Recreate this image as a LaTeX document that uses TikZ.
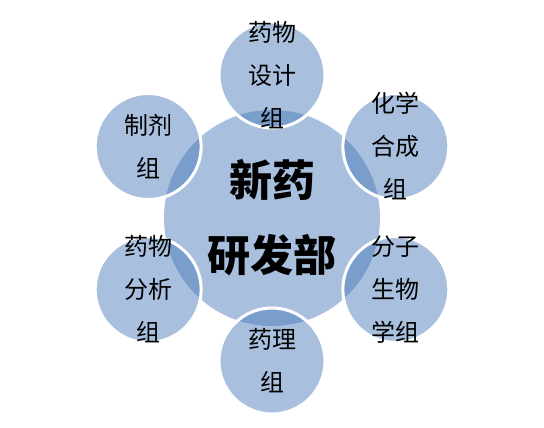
\documentclass[tikz,border=0pt]{standalone}
\usepackage{fontspec}
\setmainfont{Noto Sans CJK SC}
\usepackage{tikz}
\definecolor{hubblue}{RGB}{168, 192, 222}
\definecolor{overlapblue}{RGB}{122, 158, 203}

\begin{document}
\begin{tikzpicture}[x=1pt, y=1pt,
  hub/.style={circle, fill=hubblue, minimum size=216pt, inner sep=0pt, align=center,
    font=\fontsize{43}{75}\selectfont\bfseries},
  group/.style={circle, minimum size=106pt, inner sep=0pt, align=center,
    font=\fontsize{24}{43}\selectfont}]
  \useasboundingbox (0,0) rectangle (544,428);
  \node[hub] (hub) at (272,210) {新药\\研发部};
  \foreach \a/\n/\l in {90/design/药物\\设计\\组, 30/synth/化学\\合成\\组, -30/molbio/分子\\生物\\学组,
                        -90/pharm/药理\\组, -150/analysis/药物\\分析\\组, 150/formul/制剂\\组} {
    \coordinate (c) at ([shift={(\a:143)}]hub.center);
    \fill[hubblue] (c) circle (53);
    \begin{scope}
      \clip (c) circle (53);
      \fill[overlapblue] (hub.center) circle (108);
    \end{scope}
    \draw[white, line width=3pt] (c) circle (53);
    \node[group] (\n) at (c) {\l};
  }
\end{tikzpicture}
\end{document}
